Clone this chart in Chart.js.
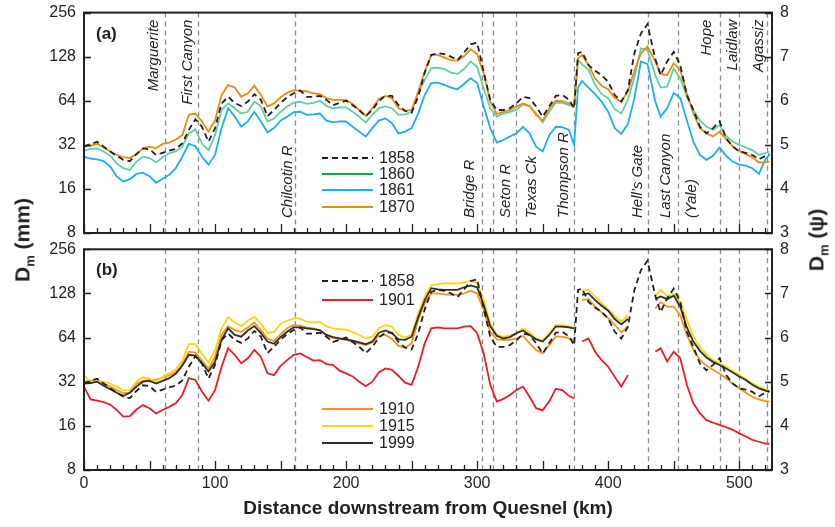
<!DOCTYPE html>
<html lang="en">
<head>
  <meta charset="UTF-8">
  <title>Fraser River median grain size</title>
  <style>
    body {
        margin: 0;
        background: #fff;
        font-family: 'Liberation Sans', Arial, sans-serif;
        color: #231f20;
    }
    .fig {
        position: relative;
        width: 835px;
        height: 527px;
    }
    canvas {
        position: absolute;
        left: 0;
    }
    #chartA { top: 0; }
    #chartB { top: 240px; }
    .ytitle {
        position: absolute;
        font-weight: bold;
        font-size: 21px;
        white-space: nowrap;
        transform: translate(-50%, -50%) rotate(-90deg);
    }
    .ytitle sub { font-size: 13px; }
    .panel {
        position: absolute;
        font-weight: bold;
        font-size: 17px;
    }
  </style>
</head>
<body>
  <div class="fig">
    <canvas id="chartA" width="835" height="245"></canvas>
    <canvas id="chartB" width="835" height="287"></canvas>
    <div class="panel" style="left:96px;top:24px">(a)</div>
    <div class="panel" style="left:96px;top:260px">(b)</div>
    <div class="ytitle" style="left:24px;top:240px">D<sub>m</sub> (mm)</div>
    <div class="ytitle" style="left:818px;top:240px">D<sub>m</sub> (&psi;)</div>
  </div>

  <script src="https://cdn.jsdelivr.net/npm/chart.js"></script>
  <script>
    // distance downstream from Quesnel (km)
    const km = [0,5,10,15,20,25,30,35,40,45,
      50,55,60,65,70,75,80,85,90,95,
      100,105,110,115,120,125,130,135,140,145,
      150,155,160,165,170,175,180,185,190,195,
      200,205,210,215,220,225,230,235,240,245,
      250,255,260,265,270,275,280,285,290,295,
      300,305,310,315,320,325,330,335,340,345,
      350,355,360,365,370,374,377,380,385,390,
      395,400,405,410,415,420,425,430,436,440,
      445,450,455,460,465,470,475,480,485,490,
      495,500,505,510,515,520,523];

    // Dm in psi units (log2 mm)
    const d1858 = [4.96,5.02,5.07,4.96,4.85,4.75,4.66,4.63,4.79,4.92,
      4.90,4.77,4.82,4.87,4.91,5.03,5.34,5.58,5.41,5.07,
      5.38,5.94,6.09,5.95,5.88,5.98,6.15,6.02,5.65,5.79,
      5.95,6.08,6.17,6.23,6.09,6.09,6.11,6.02,5.90,5.95,
      6.00,5.90,5.79,5.65,5.79,6.00,6.11,6.11,5.90,5.77,
      5.73,6.09,6.64,7.04,7.08,7.06,7.00,6.92,7.09,7.28,
      7.32,6.66,6.02,5.79,5.79,5.83,5.94,6.09,6.06,5.87,
      5.64,5.87,6.11,6.13,6.03,5.83,7.08,7.11,6.81,6.68,
      6.58,6.43,6.13,5.98,6.24,7.08,7.53,7.74,6.94,6.58,
      6.89,7.11,6.81,6.13,5.79,5.41,5.26,5.38,5.53,5.15,
      4.96,4.85,4.82,4.77,4.67,4.75,4.79];
    const d1860 = [4.87,4.91,4.92,4.85,4.75,4.58,4.47,4.43,4.62,4.73,
      4.70,4.60,4.72,4.81,4.85,4.96,5.26,5.35,5.03,4.88,
      5.22,5.79,5.94,5.83,5.71,5.75,5.98,5.87,5.53,5.60,
      5.75,5.87,5.96,5.98,5.93,5.95,6.00,5.88,5.83,5.85,
      5.85,5.75,5.64,5.51,5.68,5.83,5.87,5.83,5.68,5.69,
      5.75,6.17,6.47,6.74,6.75,6.72,6.64,6.61,6.72,6.89,
      6.77,6.28,5.83,5.64,5.71,5.75,5.80,5.92,5.88,5.71,
      5.51,5.75,5.96,5.95,5.90,5.87,6.92,6.83,6.70,6.36,
      6.15,6.06,5.81,5.71,6.02,6.53,7.19,7.15,6.57,6.30,
      6.32,6.73,6.51,6.09,5.79,5.55,5.41,5.34,5.45,5.20,
      5.07,5.00,4.94,4.88,4.77,4.81,4.85];
    const d1861 = [4.73,4.69,4.67,4.63,4.51,4.28,4.17,4.22,4.34,4.37,
      4.29,4.14,4.23,4.32,4.47,4.73,5.02,4.97,4.73,4.55,
      4.77,5.38,5.83,5.64,5.41,5.53,5.75,5.53,5.28,5.38,
      5.55,5.64,5.74,5.75,5.68,5.69,5.71,5.55,5.51,5.53,
      5.53,5.41,5.30,5.19,5.38,5.55,5.60,5.49,5.26,5.30,
      5.38,5.71,6.13,6.40,6.41,6.36,6.30,6.26,6.38,6.51,
      6.40,5.87,5.38,5.05,5.11,5.19,5.26,5.41,5.26,4.96,
      4.85,5.22,5.41,5.40,5.34,5.00,6.30,6.45,6.30,6.15,
      5.98,5.75,5.38,5.25,5.47,6.06,6.89,6.83,5.98,5.64,
      5.83,6.18,6.06,5.56,5.07,4.77,4.66,4.75,4.94,4.75,
      4.62,4.55,4.53,4.47,4.34,4.68,4.77];
    const d1870 = [4.96,4.98,5.02,4.94,4.85,4.77,4.72,4.70,4.79,4.92,
      4.96,4.92,5.02,5.05,5.12,5.22,5.68,5.71,5.53,5.30,
      5.56,6.13,6.36,6.30,6.09,6.17,6.34,6.13,5.87,5.94,
      6.08,6.18,6.24,6.23,6.21,6.17,6.15,6.06,6.02,6.02,
      6.02,5.93,5.79,5.65,5.83,6.04,6.11,6.06,5.83,5.77,
      5.79,6.21,6.66,7.04,7.04,6.98,6.92,6.91,7.01,7.17,
      7.06,6.62,5.98,5.70,5.75,5.79,5.87,5.94,5.88,5.68,
      5.55,5.83,6.00,5.99,5.94,5.87,6.96,7.04,6.81,6.51,
      6.34,6.26,6.06,5.98,6.21,6.68,7.08,7.23,6.89,6.61,
      6.58,6.85,6.70,6.17,5.71,5.38,5.26,5.19,5.30,5.13,
      4.97,4.86,4.79,4.72,4.60,4.61,4.62];
    const d1901 = [4.89,4.60,4.57,4.54,4.48,4.36,4.21,4.22,4.37,4.47,
      4.40,4.28,4.36,4.43,4.51,4.70,5.08,5.04,4.78,4.57,
      4.81,5.34,5.76,5.61,5.42,5.53,5.72,5.56,5.19,5.15,
      5.36,5.49,5.61,5.64,5.56,5.48,5.49,5.40,5.38,5.25,
      5.19,5.12,5.00,4.90,5.00,5.21,5.30,5.27,5.13,4.98,
      4.93,5.34,5.87,6.21,6.23,6.21,6.21,6.21,6.25,6.26,
      6.10,5.64,4.93,4.55,4.61,4.70,4.81,4.89,4.66,4.40,
      4.35,4.55,4.84,4.81,4.68,4.62,null,5.91,5.98,5.68,
      5.49,5.34,5.11,4.89,5.15,null,null,null,5.68,5.76,
      5.46,5.68,5.53,4.93,4.51,4.28,4.13,4.07,4.02,3.97,
      3.91,3.83,3.76,3.68,3.64,3.60,3.59];
    const d1910 = [5.00,5.02,5.04,4.96,4.89,4.81,4.74,4.75,4.95,5.02,
      5.04,5.04,5.09,5.15,5.22,5.40,5.68,5.66,5.48,5.30,
      5.57,6.06,6.26,6.17,6.13,6.23,6.34,6.17,5.98,5.92,
      6.08,6.21,6.28,6.27,6.23,6.21,6.16,6.06,6.00,5.97,
      5.95,5.91,5.87,5.83,5.89,6.04,6.06,5.97,5.81,5.77,
      5.87,6.40,6.78,7.00,7.00,6.98,6.97,6.97,7.00,7.06,
      7.00,6.62,6.13,5.96,5.95,5.95,5.98,6.04,5.87,5.72,
      5.64,5.83,6.02,6.02,5.98,5.95,null,6.85,6.87,6.70,
      6.57,6.44,6.29,6.12,6.25,null,null,null,6.66,6.80,
      6.70,6.70,6.51,6.06,5.72,5.49,5.36,5.27,5.18,5.08,
      4.96,4.85,4.75,4.66,4.60,4.56,4.55];
    const d1915 = [5.15,4.98,5.02,5.00,4.96,4.89,4.80,4.81,5.00,5.10,
      5.07,5.00,5.11,5.19,5.28,5.47,5.85,5.85,5.64,5.43,
      5.72,6.21,6.46,6.34,6.26,6.38,6.47,6.32,6.10,6.13,
      6.31,6.38,6.44,6.43,6.36,6.34,6.36,6.26,6.21,6.19,
      6.18,6.13,6.06,5.98,6.02,6.21,6.28,6.25,6.06,6.00,
      6.06,6.55,6.93,7.19,7.21,7.23,7.23,7.23,7.25,7.29,
      7.23,6.85,6.32,6.06,6.02,6.04,6.10,6.21,6.12,5.98,
      5.93,6.10,6.28,6.28,6.26,6.23,null,7.06,7.09,6.93,
      6.78,6.64,6.49,6.36,6.51,null,null,null,6.94,7.08,
      6.94,6.99,6.81,6.40,6.02,5.78,5.62,5.49,5.42,5.34,
      5.25,5.15,5.06,4.96,4.89,4.83,4.81];
    const d1999 = [4.96,4.97,5.00,4.91,4.83,4.75,4.68,4.75,4.89,5.00,
      5.02,4.96,5.02,5.08,5.18,5.36,5.61,5.59,5.42,5.23,
      5.45,5.95,6.21,6.06,6.02,6.16,6.26,6.10,5.91,5.86,
      6.01,6.13,6.23,6.23,6.21,6.19,6.17,6.06,6.01,5.98,
      5.96,5.93,5.89,5.85,5.91,6.11,6.16,6.10,5.96,5.95,
      6.02,6.46,6.85,7.12,7.09,7.08,7.08,7.08,7.14,7.18,
      7.14,6.74,6.26,6.04,5.98,6.01,6.10,6.16,6.06,5.96,
      5.91,6.06,6.25,6.25,6.23,6.21,null,6.97,7.00,6.85,
      6.72,6.61,6.42,6.30,6.42,null,null,null,6.87,6.93,
      6.87,6.95,6.70,6.23,5.91,5.70,5.55,5.45,5.38,5.30,
      5.21,5.12,5.04,4.93,4.85,4.80,4.77];

    // tributaries / landmarks
    const siteKm = [62, 87, 161, 304, 312, 330, 374, 430, 453, 485, 500, 521];
    const siteNames = ['Marguerite', 'First Canyon', 'Chilcotin R', 'Bridge R', 'Seton R', 'Texas Ck',
      'Thompson R', 'Hell\u2019s Gate', 'Last Canyon\n(Yale)', 'Hope', 'Laidlaw', 'Agassiz'];
    const siteDx = [-7, -6, -3, -8, 17, 20, -6, -6, -8, -9, -2, -4];
    const siteTop = [true, true, false, false, false, false, false, false, false, true, true, true];

    const xTicks = [0, 100, 200, 300, 400, 500];
    const psiTicks = [3, 4, 5, 6, 7, 8];
    const mmTicks = [8, 16, 32, 64, 128, 256];

    const INK = '#231f20';
    Chart.defaults.font.family = "'Liberation Sans', Arial, sans-serif";
    Chart.defaults.color = INK;

    function series(vals) {
      return km.map((k, i) => ({ x: k, y: vals[i] }));
    }

    function lineSet(label, vals, color, dash) {
      return {
        label: label,
        data: series(vals),
        borderColor: color,
        borderWidth: 1.8,
        borderDash: dash || [],
        pointRadius: 0,
        fill: false,
        tension: 0,
        spanGaps: false
      };
    }

    // y axes: fixed width, no automatic label overflow padding
    function fixY(width) {
      return s => { s.width = width; s.paddingTop = 0; s.paddingBottom = 0; };
    }

    function scalesFor(showX) {
      return {
        x: {
          type: 'linear', min: 0, max: 525, display: showX,
          afterBuildTicks: s => { s.ticks = xTicks.map(v => ({ value: v })); },
          grid: { display: false, drawTicks: false },
          border: { display: false },
          ticks: { font: { size: 16 }, padding: 4, maxRotation: 0 },
          title: {
            display: true, text: 'Distance downstream from Quesnel (km)',
            font: { size: 19, weight: 'bold' }, padding: { top: 4, bottom: 7 }
          },
          afterFit: s => { s.height = showX ? 57 : 0; s.paddingLeft = 0; s.paddingRight = 0; }
        },
        y: {
          type: 'linear', position: 'left', min: 3, max: 8,
          afterBuildTicks: s => { s.ticks = psiTicks.map(v => ({ value: v })); },
          ticks: { callback: (v, i) => mmTicks[i], font: { size: 16 }, padding: 8 },
          grid: { display: false, drawTicks: false },
          border: { display: false },
          afterFit: fixY(84)
        },
        y2: {
          type: 'linear', position: 'right', min: 3, max: 8,
          afterBuildTicks: s => { s.ticks = psiTicks.map(v => ({ value: v })); },
          ticks: { callback: v => v, font: { size: 16 }, padding: 8 },
          grid: { display: false, drawTicks: false },
          border: { display: false },
          afterFit: fixY(63)
        }
      };
    }

    // dashed tributary lines
    const siteLines = {
      id: 'siteLines',
      beforeDatasetsDraw(chart) {
        const { ctx, chartArea: a, scales: { x } } = chart;
        ctx.save();
        ctx.strokeStyle = '#8a8a8a';
        ctx.lineWidth = 1.3;
        ctx.setLineDash([5, 4]);
        siteKm.forEach(k => {
          const px = Math.round(x.getPixelForValue(k)) + 0.5;
          ctx.beginPath();
          ctx.moveTo(px, a.top);
          ctx.lineTo(px, a.bottom);
          ctx.stroke();
        });
        ctx.restore();
      }
    };

    // box + inward ticks
    const frame = {
      id: 'frame',
      afterDatasetsDraw(chart) {
        const { ctx, chartArea: a, scales: { x, y } } = chart;
        ctx.save();
        ctx.strokeStyle = INK;
        ctx.lineWidth = 1.3;
        ctx.beginPath();
        for (let k = 0; k <= 520; k += 10) {
          const px = Math.round(x.getPixelForValue(k)) + 0.5;
          const len = k % 50 === 0 ? 9 : 5;
          ctx.moveTo(px, a.bottom);
          ctx.lineTo(px, a.bottom - len);
        }
        psiTicks.forEach(v => {
          const py = Math.round(y.getPixelForValue(v)) + 0.5;
          ctx.moveTo(a.left, py); ctx.lineTo(a.left + 7, py);
          ctx.moveTo(a.right, py); ctx.lineTo(a.right - 7, py);
        });
        ctx.stroke();
        ctx.lineWidth = 2;
        ctx.strokeRect(a.left, a.top, a.right - a.left, a.bottom - a.top);
        ctx.restore();
      }
    };

    const siteLabels = {
      id: 'siteLabels',
      afterDatasetsDraw(chart) {
        const { ctx, chartArea: a, scales: { x } } = chart;
        ctx.save();
        ctx.fillStyle = INK;
        ctx.font = "italic 15px 'Liberation Sans', Arial, sans-serif";
        ctx.textBaseline = 'alphabetic';
        siteNames.forEach((name, i) => {
          const px = x.getPixelForValue(siteKm[i]);
          name.split('\n').forEach((line, j) => {
            ctx.save();
            ctx.translate(px + siteDx[i] + j * 26, siteTop[i] ? a.top + 7 : a.bottom - 15);
            ctx.rotate(-Math.PI / 2);
            ctx.textAlign = siteTop[i] ? 'right' : 'left';
            ctx.fillText(line, 0, 0);
            ctx.restore();
          });
        });
        ctx.restore();
      }
    };

    function keyPlugin(items) {
      return {
        id: 'key',
        afterDatasetsDraw(chart) {
          const ctx = chart.ctx;
          ctx.save();
          items.forEach(it => {
            ctx.strokeStyle = it.color;
            ctx.lineWidth = 2.2;
            ctx.setLineDash(it.dash);
            ctx.beginPath();
            ctx.moveTo(322, it.y);
            ctx.lineTo(373, it.y);
            ctx.stroke();
            ctx.setLineDash([]);
            ctx.fillStyle = INK;
            ctx.font = "16px 'Liberation Sans', Arial, sans-serif";
            ctx.textBaseline = 'middle';
            ctx.fillText(it.label, 379, it.y + 1);
          });
          ctx.restore();
        }
      };
    }

    const DASH = [6, 4];

    // panel (a)
    new Chart(document.getElementById('chartA'), {
      type: 'line',
      data: {
        datasets: [
          lineSet('1858', d1858, INK, DASH),
          lineSet('1870', d1870, '#ee8a0e'),
          lineSet('1860', d1860, '#5fd0a6'),
          lineSet('1861', d1861, '#1cb0ec')
        ]
      },
      options: {
        responsive: false,
        animation: false,
        layout: { padding: { top: 12.6, bottom: 12 } },
        scales: scalesFor(false),
        plugins: { legend: { display: false }, tooltip: { enabled: false } }
      },
      plugins: [siteLines, frame, siteLabels, keyPlugin([
        { label: '1858', color: INK, dash: DASH, y: 158 },
        { label: '1860', color: '#12a64c', dash: [], y: 174 },
        { label: '1861', color: '#1cb0ec', dash: [], y: 190 },
        { label: '1870', color: '#ee8a0e', dash: [], y: 207 }
      ])]
    });

    // panel (b)
    new Chart(document.getElementById('chartB'), {
      type: 'line',
      data: {
        datasets: [
          lineSet('1858', d1858, INK, DASH),
          lineSet('1999', d1999, '#2e2e2e'),
          lineSet('1915', d1915, '#ffd60a'),
          lineSet('1910', d1910, '#f7941d'),
          lineSet('1901', d1901, '#ee1c24')
        ]
      },
      options: {
        responsive: false,
        animation: false,
        layout: { padding: { top: 9.3, bottom: 0 } },
        scales: scalesFor(true),
        plugins: { legend: { display: false }, tooltip: { enabled: false } }
      },
      plugins: [siteLines, frame, keyPlugin([
        { label: '1858', color: INK, dash: DASH, y: 41 },
        { label: '1901', color: '#ee1c24', dash: [], y: 60 },
        { label: '1910', color: '#f7941d', dash: [], y: 169 },
        { label: '1915', color: '#ffd60a', dash: [], y: 186 },
        { label: '1999', color: '#2e2e2e', dash: [], y: 203 }
      ])]
    });
  </script>
</body>
</html>
